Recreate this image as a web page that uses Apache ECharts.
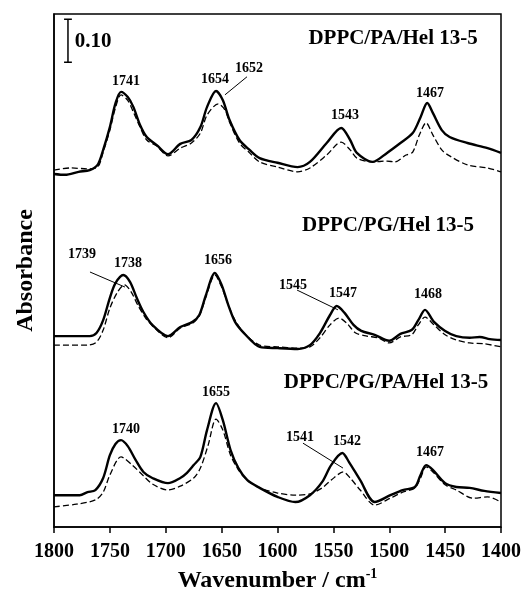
<!DOCTYPE html>
<html>
<head>
<meta charset="utf-8">
<script src="https://cdn.jsdelivr.net/npm/echarts@6/dist/echarts.min.js"></script>
<style>
  html, body { margin: 0; padding: 0; background: #fff; }
  #chart { width: 523px; height: 596px; }
</style>
</head>
<body>
<div id="chart"></div>
<script>
// spectra, [wavenumber, absorbance (with stacking offset)]
let paSolid = [[1800,0.821],[1790,0.819],[1778,0.826],[1768,0.830],[1761,0.842],[1756,0.877],[1750,0.930],[1745,0.985],[1740,1.012],[1734,1.000],[1729,0.977],[1723,0.935],[1717,0.907],[1708,0.888],[1698,0.867],[1687,0.891],[1677,0.900],[1669,0.930],[1663,0.977],[1655,1.014],[1649,0.993],[1643,0.947],[1634,0.900],[1625,0.877],[1616,0.858],[1600,0.847],[1582,0.837],[1571,0.849],[1556,0.893],[1543,0.928],[1535,0.900],[1529,0.870],[1515,0.849],[1502,0.870],[1490,0.893],[1479,0.916],[1472,0.953],[1466,0.986],[1461,0.963],[1453,0.923],[1446,0.907],[1430,0.893],[1412,0.881],[1400,0.870]];
let paDash = [[1800,0.830],[1785,0.835],[1770,0.833],[1761,0.837],[1756,0.872],[1750,0.923],[1745,0.975],[1740,1.005],[1734,0.992],[1729,0.965],[1723,0.930],[1717,0.900],[1708,0.886],[1698,0.863],[1687,0.881],[1677,0.893],[1669,0.916],[1663,0.958],[1653,0.984],[1647,0.970],[1643,0.942],[1634,0.893],[1625,0.870],[1616,0.849],[1600,0.837],[1582,0.826],[1571,0.835],[1556,0.865],[1543,0.895],[1535,0.877],[1529,0.858],[1515,0.849],[1502,0.851],[1495,0.849],[1485,0.865],[1479,0.872],[1473,0.912],[1467,0.940],[1461,0.912],[1453,0.877],[1446,0.863],[1430,0.842],[1412,0.835],[1400,0.826]];

let pgSolid = [[1800,0.444],[1768,0.444],[1762,0.451],[1756,0.481],[1750,0.533],[1745,0.567],[1738,0.586],[1732,0.570],[1726,0.533],[1720,0.500],[1712,0.470],[1698,0.444],[1687,0.465],[1676,0.477],[1670,0.493],[1664,0.540],[1656,0.591],[1650,0.563],[1644,0.516],[1638,0.477],[1630,0.451],[1616,0.419],[1600,0.416],[1582,0.414],[1571,0.423],[1562,0.451],[1553,0.493],[1547,0.514],[1540,0.498],[1532,0.470],[1525,0.456],[1513,0.447],[1500,0.433],[1490,0.449],[1480,0.458],[1474,0.481],[1468,0.505],[1460,0.477],[1450,0.456],[1440,0.444],[1428,0.440],[1419,0.442],[1410,0.437],[1400,0.435]];
let pgDash = [[1800,0.423],[1770,0.423],[1762,0.430],[1756,0.458],[1750,0.509],[1743,0.547],[1737,0.563],[1731,0.547],[1725,0.516],[1718,0.486],[1710,0.463],[1698,0.440],[1687,0.463],[1676,0.474],[1670,0.491],[1664,0.535],[1656,0.586],[1650,0.558],[1644,0.516],[1638,0.481],[1630,0.451],[1616,0.423],[1600,0.419],[1582,0.416],[1571,0.419],[1562,0.440],[1553,0.470],[1545,0.486],[1538,0.474],[1530,0.451],[1520,0.444],[1510,0.440],[1500,0.428],[1490,0.442],[1480,0.447],[1474,0.470],[1468,0.488],[1460,0.470],[1450,0.447],[1440,0.435],[1428,0.428],[1415,0.426],[1400,0.419]];

let pgpaSolid = [[1800,0.074],[1777,0.074],[1770,0.081],[1763,0.086],[1756,0.114],[1750,0.167],[1745,0.193],[1740,0.202],[1734,0.188],[1727,0.156],[1720,0.128],[1712,0.114],[1698,0.102],[1687,0.114],[1681,0.126],[1675,0.144],[1669,0.163],[1663,0.226],[1655,0.288],[1649,0.249],[1642,0.179],[1635,0.137],[1627,0.109],[1616,0.091],[1600,0.070],[1584,0.058],[1571,0.074],[1560,0.105],[1552,0.144],[1542,0.172],[1536,0.151],[1526,0.109],[1513,0.058],[1499,0.074],[1488,0.086],[1477,0.093],[1472,0.121],[1467,0.144],[1461,0.133],[1450,0.102],[1440,0.093],[1428,0.091],[1415,0.084],[1400,0.079]];
let pgpaDash = [[1800,0.047],[1780,0.053],[1763,0.063],[1756,0.081],[1750,0.121],[1740,0.163],[1730,0.144],[1720,0.119],[1712,0.100],[1698,0.086],[1687,0.095],[1675,0.114],[1669,0.137],[1662,0.191],[1655,0.251],[1649,0.226],[1642,0.167],[1635,0.133],[1627,0.109],[1616,0.091],[1600,0.079],[1584,0.074],[1571,0.077],[1560,0.091],[1552,0.109],[1541,0.128],[1535,0.114],[1526,0.086],[1513,0.051],[1499,0.067],[1488,0.081],[1477,0.091],[1472,0.114],[1467,0.140],[1461,0.128],[1450,0.098],[1440,0.086],[1425,0.067],[1412,0.070],[1400,0.058]];

// peak labels [wavenumber, absorbance, text]
let peakLabels = [
    [1735.6,1.037,'1741'],[1655.9,1.040,'1654'],[1625.5,1.067,'1652'],[1539.6,0.958,'1543'],[1463.5,1.009,'1467'],
    [1774.9,0.633,'1739'],[1733.8,0.614,'1738'],[1653.2,0.621,'1656'],[1586.1,0.563,'1545'],[1541.4,0.544,'1547'],[1465.3,0.540,'1468'],
    [1655.0,0.312,'1655'],[1735.6,0.226,'1740'],[1579.9,0.209,'1541'],[1537.8,0.198,'1542'],[1463.5,0.174,'1467']
];
let sampleLabels = [
    [1496.6,1.137,'DPPC/PA/Hel 13-5'],
    [1501.1,0.700,'DPPC/PG/Hel 13-5'],
    [1502.9,0.335,'DPPC/PG/PA/Hel 13-5']
];
// leader lines [[w1,a1],[w2,a2]]
let leaders = [
    [[1627.3,1.047],[1647.0,1.005]],
    [[1767.8,0.593],[1736.5,0.558]],
    [[1582.5,0.551],[1545.9,0.505]],
    [[1577.2,0.195],[1541.4,0.137]]
];
// 0.10 absorbance scale bar
let scaleBar = [[1791,1.181],[1784,1.181],[1787.5,1.181],[1787.5,1.081],[1791,1.081],[1784,1.081]];
let scaleText = [[1765.1,1.128,'0.10']];

let xTicks = { min: 1400, max: 1800, interval: 50 };

const serif = '"Liberation Serif", "Times New Roman", serif';

var myChart = echarts.init(document.getElementById('chart'));

function solid(data) {
    return { type: 'line', data: data, smooth: 0.3, symbol: 'none', silent: true,
        lineStyle: { color: '#000', width: 2.4 } };
}
function dashed(data) {
    return { type: 'line', data: data, smooth: 0.3, symbol: 'none', silent: true,
        lineStyle: { color: '#000', width: 1.3, type: [6, 3] } };
}
function textSeries(items, size) {
    return {
        type: 'scatter', symbolSize: 0, silent: true,
        itemStyle: { color: '#000', opacity: 1 },
        data: items.map(d => ({ name: d[2], value: [d[0], d[1]] })),
        label: { show: true, position: 'inside', formatter: '{b}', color: '#000',
            textBorderWidth: 0, textBorderColor: 'transparent',
            fontFamily: serif, fontWeight: 'bold', fontSize: size }
    };
}

let option = {
    animation: false,
    grid: { left: 54, right: 22, top: 14, bottom: 69, outerBoundsMode: 'none',
        show: true, borderColor: '#000', borderWidth: 1.5 },
    xAxis: {
        type: 'value', inverse: true,
        min: xTicks.min, max: xTicks.max, interval: xTicks.interval,
        axisLine: { show: true, lineStyle: { color: '#000', width: 1.5 } },
        axisTick: { show: true, inside: false, length: 6, lineStyle: { color: '#000', width: 1.5 } },
        axisLabel: { color: '#000', fontFamily: serif, fontWeight: 'bold', fontSize: 20, margin: 15,
            formatter: v => String(v) },
        splitLine: { show: false },
        name: '{n|Wavenumber / cm}{s|-1}',
        nameLocation: 'middle', nameGap: 40,
        nameTextStyle: {
            rich: {
                n: { fontFamily: serif, fontWeight: 'bold', fontSize: 24, color: '#000' },
                s: { fontFamily: serif, fontWeight: 'bold', fontSize: 14, color: '#000', verticalAlign: 'top', padding: [0, 0, 14, 0] }
            }
        }
    },
    yAxis: {
        type: 'value', min: 0, max: 1.193,
        axisLine: { show: true, lineStyle: { color: '#000', width: 1.5 } },
        axisTick: { show: false }, axisLabel: { show: false }, splitLine: { show: false },
        name: 'Absorbance', nameLocation: 'middle', nameGap: 16,
        nameTextStyle: { fontFamily: serif, fontWeight: 'bold', fontSize: 24, color: '#000' }
    },
    series: [
        dashed(paDash), solid(paSolid),
        dashed(pgDash), solid(pgSolid),
        dashed(pgpaDash), solid(pgpaSolid),
        {
            type: 'line', data: scaleBar, symbol: 'none', silent: true,
            lineStyle: { color: '#000', width: 1.5 }
        },
        {
            type: 'line', data: [], symbol: 'none', silent: true,
            markLine: {
                silent: true, symbol: 'none', label: { show: false },
                lineStyle: { color: '#000', width: 1, type: 'solid' },
                data: leaders.map(l => [{ coord: l[0] }, { coord: l[1] }])
            }
        },
        textSeries(peakLabels, 14),
        textSeries(sampleLabels, 21),
        textSeries(scaleText, 21)
    ]
};
myChart.setOption(option);
</script>
</body>
</html>
